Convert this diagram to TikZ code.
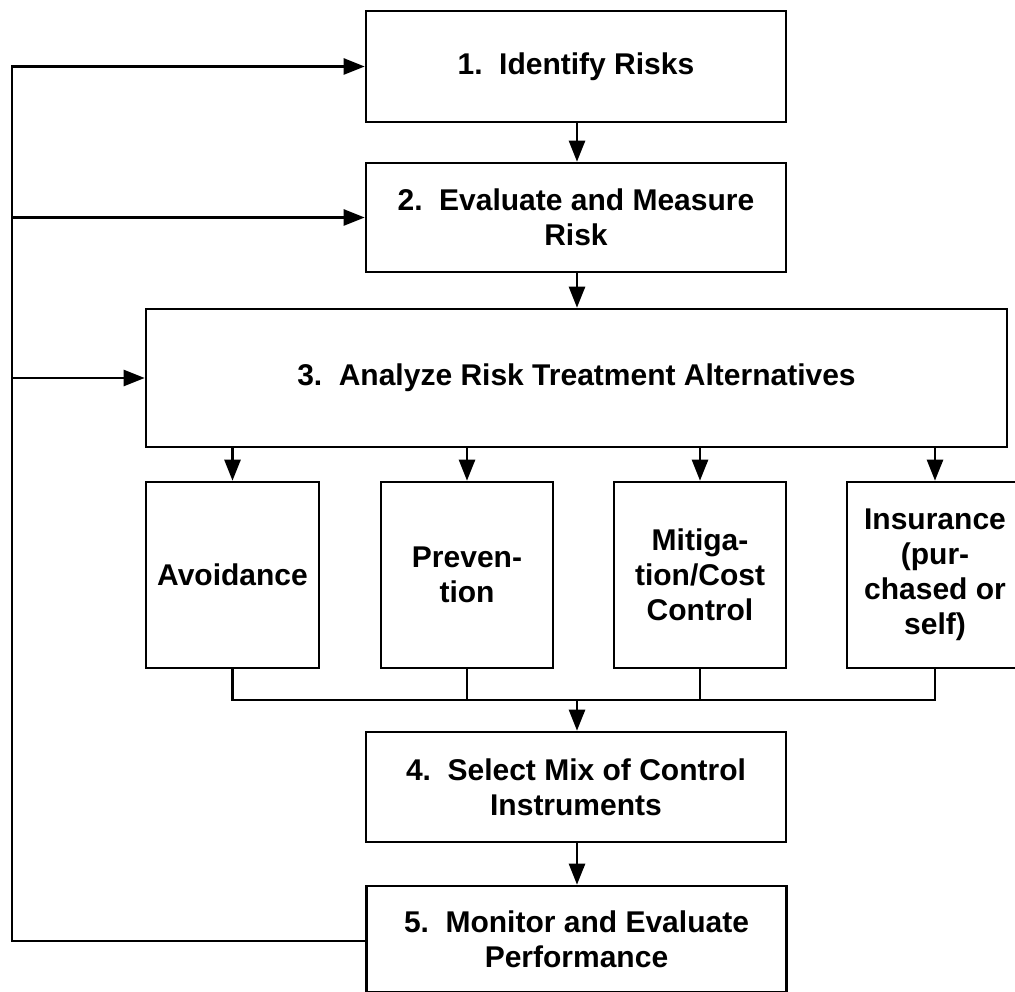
\documentclass[tikz,border=0pt]{standalone}
\usepackage{fontspec}
\setmainfont{Liberation Sans}
\usetikzlibrary{arrows.meta}
\begin{document}
\begin{tikzpicture}[x=1pt,y=-1pt,
  line width=2.6pt,
  box/.style={draw, rectangle, inner sep=0pt, align=center,
    font=\fontsize{30}{35}\selectfont\bfseries},
  arr/.style={-{Triangle[length=21pt,width=16pt]}}]
\useasboundingbox (0,0) rectangle (1015,992);

% main process steps
\node[box, minimum width=420, minimum height=111] (b1) at (576,66.5) {1.\hspace{0.55em}Identify Risks};
\node[box, minimum width=420, minimum height=109] (b2) at (576,217.5) {2.\hspace{0.55em}Evaluate and Measure\\Risk};
\node[box, minimum width=861, minimum height=138] (b3) at (576.5,378) {3.\hspace{0.55em}Analyze Risk Treatment Alternatives};

% treatment alternatives
\node[box, minimum width=173, minimum height=186] (s1) at (232.5,575) {Avoidance};
\node[box, minimum width=172, minimum height=186] (s2) at (467,575) {Preven-\\tion};
\node[box, minimum width=172, minimum height=186] (s3) at (700,575) {Mitiga-\\tion/Cost\\Control};
\node[box, minimum width=176, minimum height=186] (s4) at (935,575) {Insurance\\(pur-\\chased or\\self)};

\node[box, minimum width=420, minimum height=110] (b4) at (576,787) {4.\hspace{0.55em}Select Mix of Control\\Instruments};
\node[box, minimum width=420, minimum height=106] (b5) at (576.5,939) {5.\hspace{0.55em}Monitor and Evaluate\\Performance};

% forward flow
\draw[arr] (b1.south -| 577,0) -- (b2.north -| 577,0);
\draw[arr] (b2.south -| 577,0) -- (b3.north -| 577,0);
\foreach \s in {s1,s2,s3,s4}
  \draw[arr] (b3.south -| \s.north) -- (\s.north);

\coordinate (join) at (577,700);
\draw (s1.south) -- (s1.south |- join) -- (s4.south |- join) -- (s4.south);
\draw (s2.south) -- (s2.south |- join);
\draw (s3.south) -- (s3.south |- join);
\draw[arr] (join) -- (b4.north -| join);
\draw[arr] (b4.south -| join) -- (b5.north -| join);

% feedback loop
\coordinate (fbBot) at (12,941);
\coordinate (fbTop) at (12,66.5);
\draw[arr] (b5.west |- fbBot) -- (fbBot) -- (fbTop) -- (b1.west);
\draw[arr] (fbTop |- b2.west) -- (b2.west);
\draw[arr] (fbTop |- b3.west) -- (b3.west);
\end{tikzpicture}
\end{document}
